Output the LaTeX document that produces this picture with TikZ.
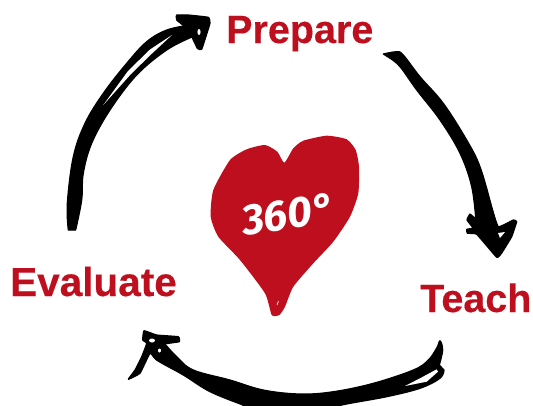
\documentclass[tikz,border=0pt]{standalone}
\usepackage{fontspec}
\setmainfont{Liberation Sans}
\newfontfamily\handfont{Fira Sans}
\newfontfamily\labelfont[FakeBold=0.35]{Liberation Sans Bold}
\definecolor{brandred}{HTML}{BE0F1E}
\tikzset{
  label text/.style={text=brandred,inner sep=0pt,anchor=base west},
  sketch/.style={fill=black,draw=black,line width=1.2pt,line join=round},
  gap/.style={fill=white,draw=none},
}
\begin{document}
\begin{tikzpicture}[x=1pt,y=-1pt]
\useasboundingbox (0,0) rectangle (533,405);
% heart
\fill[brandred,line join=round] plot[smooth cycle,tension=0.35] coordinates {
 (284.3,162.7) (293.3,148.3) (303.3,140.7) (326.7,135.7) (346.7,139.3) (355.7,150) (359,166.7) (358.3,193.3)
 (350,216.7) (333.3,241.7) (313.3,263.3) (293.3,286.7) (285,306.7) (279.3,315) (271.7,315) (265,293.3)
 (240,260) (218.3,236.7) (210.7,216.7) (213.3,190) (230,160) (246.7,149.3) (265,145) (277.3,151.7)};
\draw[white,line width=0.6pt] (277,305) -- (278.5,301);
\node[text=white,font=\handfont\bfseries\itshape\fontsize{43}{43}\selectfont,rotate=8,inner sep=0pt] (deg) at (288,214) {360°};
% labels
\node[label text,font=\labelfont\fontsize{39.5}{39.5}\selectfont] (prepare) at (226,43) {Prepare};
\node[label text,font=\labelfont\fontsize{40.5}{40.5}\selectfont] (evaluate) at (10,296) {Evaluate};
\node[label text,font=\labelfont\fontsize{39.5}{39.5}\selectfont] (teach) at (420,312) {Teach};
% arrow Evaluate -> Prepare
\path[sketch] plot[smooth,tension=0.6] coordinates {(68.3,230) (67.3,203.3) (73.3,156.7) (85,123.3) (103.3,93.3) (126.7,63.3) (146.7,41.7) (166.7,30) (190,25)}
 -- plot[smooth,tension=0.6] coordinates {(192,37) (166.7,50) (136.7,75) (110,110) (91.7,143.3) (83.3,173.3) (81.7,200) (75.7,230)} -- cycle;
\path[sketch] plot[smooth cycle,tension=0.2] coordinates {
 (185,27) (176.7,20) (176.7,15) (188.3,15) (208.3,17.3) (210,23.3) (201.7,49.3) (197.3,48.3) (191.7,36.7)};
\fill[gap] (172,35) -- (150,49.5) -- (128,71) -- (103.3,105) -- (131,74) -- (152,53.5) -- cycle;
\fill[gap] (199,32) ellipse[x radius=1.6pt,y radius=3pt];
% arrow Prepare -> Teach
\path[sketch] plot[smooth,tension=0.6] coordinates {(383.3,54) (396.7,51.7) (403.3,55) (420,76.7) (443.3,103.3) (466.7,140) (480,166.7) (491.7,206.7) (498.3,232)}
 -- plot[smooth,tension=0.6] coordinates {(476,222) (471.7,186.7) (460,153.3) (440,120) (416.7,90) (400,66.7) (390,58.3)} -- cycle;
\path[sketch] plot[smooth cycle,tension=0.2] coordinates {
 (476,218.3) (490,205) (498.3,226.7) (513.3,220) (516.7,221.7) (511.7,236.7) (501.7,253) (496.7,257.3)
 (476.7,234.3) (467.3,233.3) (466.7,229.3) (473,228) (467,220) (470,214)};
\fill[gap] (498,233) -- (505,232) -- (500,238) -- cycle;
% arrow Teach -> Evaluate
\path[sketch] plot[smooth,tension=0.6] coordinates {(444,370) (440,378.3) (420,388.3) (386.7,396.7) (346.7,404) (330,408)}
 -- (243,408) -- plot[smooth,tension=0.6] coordinates {(243,405) (210,391.7) (183.3,375) (156.7,360) (152,352)}
 -- plot[smooth,tension=0.6] coordinates {(165,344) (176.7,356.7) (193.3,370) (230,380) (263.3,390) (300,394) (333.3,391.7) (373.3,383.3) (413.3,370) (428.3,360) (436.7,348) (440,340.7) (442.7,350) (439.3,365)} -- cycle;
\path[sketch] plot[smooth cycle,tension=0.2] coordinates {
 (165,350) (156.7,360) (150,353.3) (140,373.3) (128.3,379.3) (135,370) (141.7,356.7)
 (146.7,343.3) (142.7,340) (144,330.7) (156.7,335) (178.3,336.7) (179.3,341.7) (165,344)};
\fill[gap] (405,386) -- (420,378.3) -- (436.7,369.3) -- (438,371.7) -- (426.7,381.7) -- cycle;
\fill[gap] (152,340.5) ellipse[x radius=3pt,y radius=2pt];
\fill[gap] (159.5,350.5) ellipse[x radius=1.5pt,y radius=2pt];
\end{tikzpicture}
\end{document}
